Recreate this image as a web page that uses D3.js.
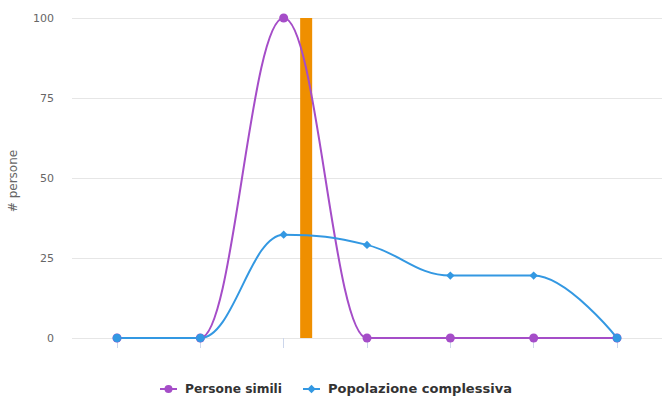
<!DOCTYPE html>
<html><head><meta charset="utf-8">
<script src="https://cdn.jsdelivr.net/npm/d3@7"></script>
<style>body{margin:0;background:#fff;} svg{display:block;font-family:"DejaVu Sans",Verdana,sans-serif;}</style>
</head><body>
<svg id="c" width="662" height="399"></svg>
<script>
const categories = [0,1,2,3,4,5,6];
const simili = [0,0,100,0,0,0,0];
const popolazione = [0,0,32.3,29.1,19.5,19.5,0];
const yTicks = [0,25,50,75,100];
const markerValue = 2.27;
const seriesNames = ["Persone simili","Popolazione complessiva"];

const svg = d3.select("#c");
const x = d3.scaleLinear().domain([0,6]).range([117,617]);
const y = d3.scaleLinear().domain([0,100]).range([338,18]);
const purple = "#a54dc8", blue = "#3398e2", orange = "#ef8f00";

// grid
svg.append("g").selectAll("line").data(yTicks).join("line")
  .attr("x1",72).attr("x2",662).attr("y1",d=>y(d)).attr("y2",d=>y(d))
  .attr("stroke","#e6e6e6").attr("stroke-width",1).attr("shape-rendering","crispEdges");
// x ticks
svg.append("g").selectAll("line").data(categories).join("line")
  .attr("x1",d=>x(d)).attr("x2",d=>x(d)).attr("y1",y(0)).attr("y2",y(0)+10)
  .attr("stroke","#ccd6eb").attr("shape-rendering","crispEdges");
// y labels
svg.append("g").selectAll("text").data(yTicks).join("text")
  .attr("x",54).attr("y",d=>y(d)+4).attr("text-anchor","end")
  .attr("font-size",11).attr("fill","#666").text(d=>d);
svg.append("text").attr("transform","translate(17,181) rotate(-90)")
  .attr("text-anchor","middle").attr("font-size",12).attr("fill","#666").text("# persone");

// Highcharts spline
function splinePath(vals){
  const pts = vals.map((v,i)=>({x:x(i),y:y(v)}));
  const s=1.5, den=2.5;
  let d = `M${pts[0].x},${pts[0].y}`;
  for(let i=1;i<pts.length;i++){
    const p=pts[i], last=pts[i-1], next=pts[i+1];
    let lcx, lcy, rcx, rcy;
    if(next){
      lcx=(s*p.x+last.x)/den; lcy=(s*p.y+last.y)/den;
      rcx=(s*p.x+next.x)/den; rcy=(s*p.y+next.y)/den;
      let corr=0;
      if(rcx!==lcx) corr=((rcy-lcy)*(rcx-p.x))/(rcx-lcx)+p.y-rcy;
      lcy+=corr; rcy+=corr;
      if(lcy>last.y&&lcy>p.y){lcy=Math.max(last.y,p.y);rcy=2*p.y-lcy;}
      else if(lcy<last.y&&lcy<p.y){lcy=Math.min(last.y,p.y);rcy=2*p.y-lcy;}
      if(rcy>next.y&&rcy>p.y){rcy=Math.max(next.y,p.y);lcy=2*p.y-rcy;}
      else if(rcy<next.y&&rcy<p.y){rcy=Math.min(next.y,p.y);lcy=2*p.y-rcy;}
      p.rcx=rcx; p.rcy=rcy;
    } else { lcx=p.x; lcy=p.y; }
    const c1x = last.rcx!==undefined?last.rcx:last.x;
    const c1y = last.rcy!==undefined?last.rcy:last.y;
    d+=`C${c1x},${c1y} ${lcx},${lcy} ${p.x},${p.y}`;
  }
  return d;
}

// orange marker bar
svg.append("rect").attr("x",x(markerValue)-6).attr("width",12)
  .attr("y",y(100)).attr("height",y(0)-y(100)).attr("fill",orange);

svg.append("path").attr("d",splinePath(simili)).attr("fill","none").attr("stroke",purple).attr("stroke-width",2);
svg.append("path").attr("d",splinePath(popolazione)).attr("fill","none").attr("stroke",blue).attr("stroke-width",2);

svg.append("g").selectAll("circle").data(simili).join("circle")
  .attr("cx",(d,i)=>x(i)).attr("cy",d=>y(d)).attr("r",4.5).attr("fill",purple);
const diamondPath = "M0,-4.2L4.2,0L0,4.2L-4.2,0Z";
svg.append("g").selectAll("path").data(popolazione).join("path")
  .attr("transform",(d,i)=>`translate(${x(i)},${y(d)})`)
  .attr("d",(d,i)=> d===0 ? d3.symbol().type(d3.symbolCircle).size(60)() : diamondPath)
  .attr("fill",blue);

// legend
const lg = svg.append("g");
const items = [{name:seriesNames[0],c:purple,sx:160,tx:185,tl:97,circle:true},
               {name:seriesNames[1],c:blue,sx:303,tx:328,tl:184,circle:false}];
items.forEach(it=>{
  lg.append("line").attr("x1",it.sx).attr("x2",it.sx+17).attr("y1",389).attr("y2",389)
    .attr("stroke",it.c).attr("stroke-width",2);
  lg.append("path").attr("d",it.circle ? d3.symbol().type(d3.symbolCircle).size(50)() : diamondPath)
    .attr("transform",`translate(${it.sx+8.5},389)`).attr("fill",it.c);
  lg.append("text").attr("x",it.tx).attr("y",393).attr("font-size",12.5).attr("font-weight","bold")
    .attr("fill","#333").attr("textLength",it.tl).attr("lengthAdjust","spacingAndGlyphs").text(it.name);
});
</script>
</body></html>
